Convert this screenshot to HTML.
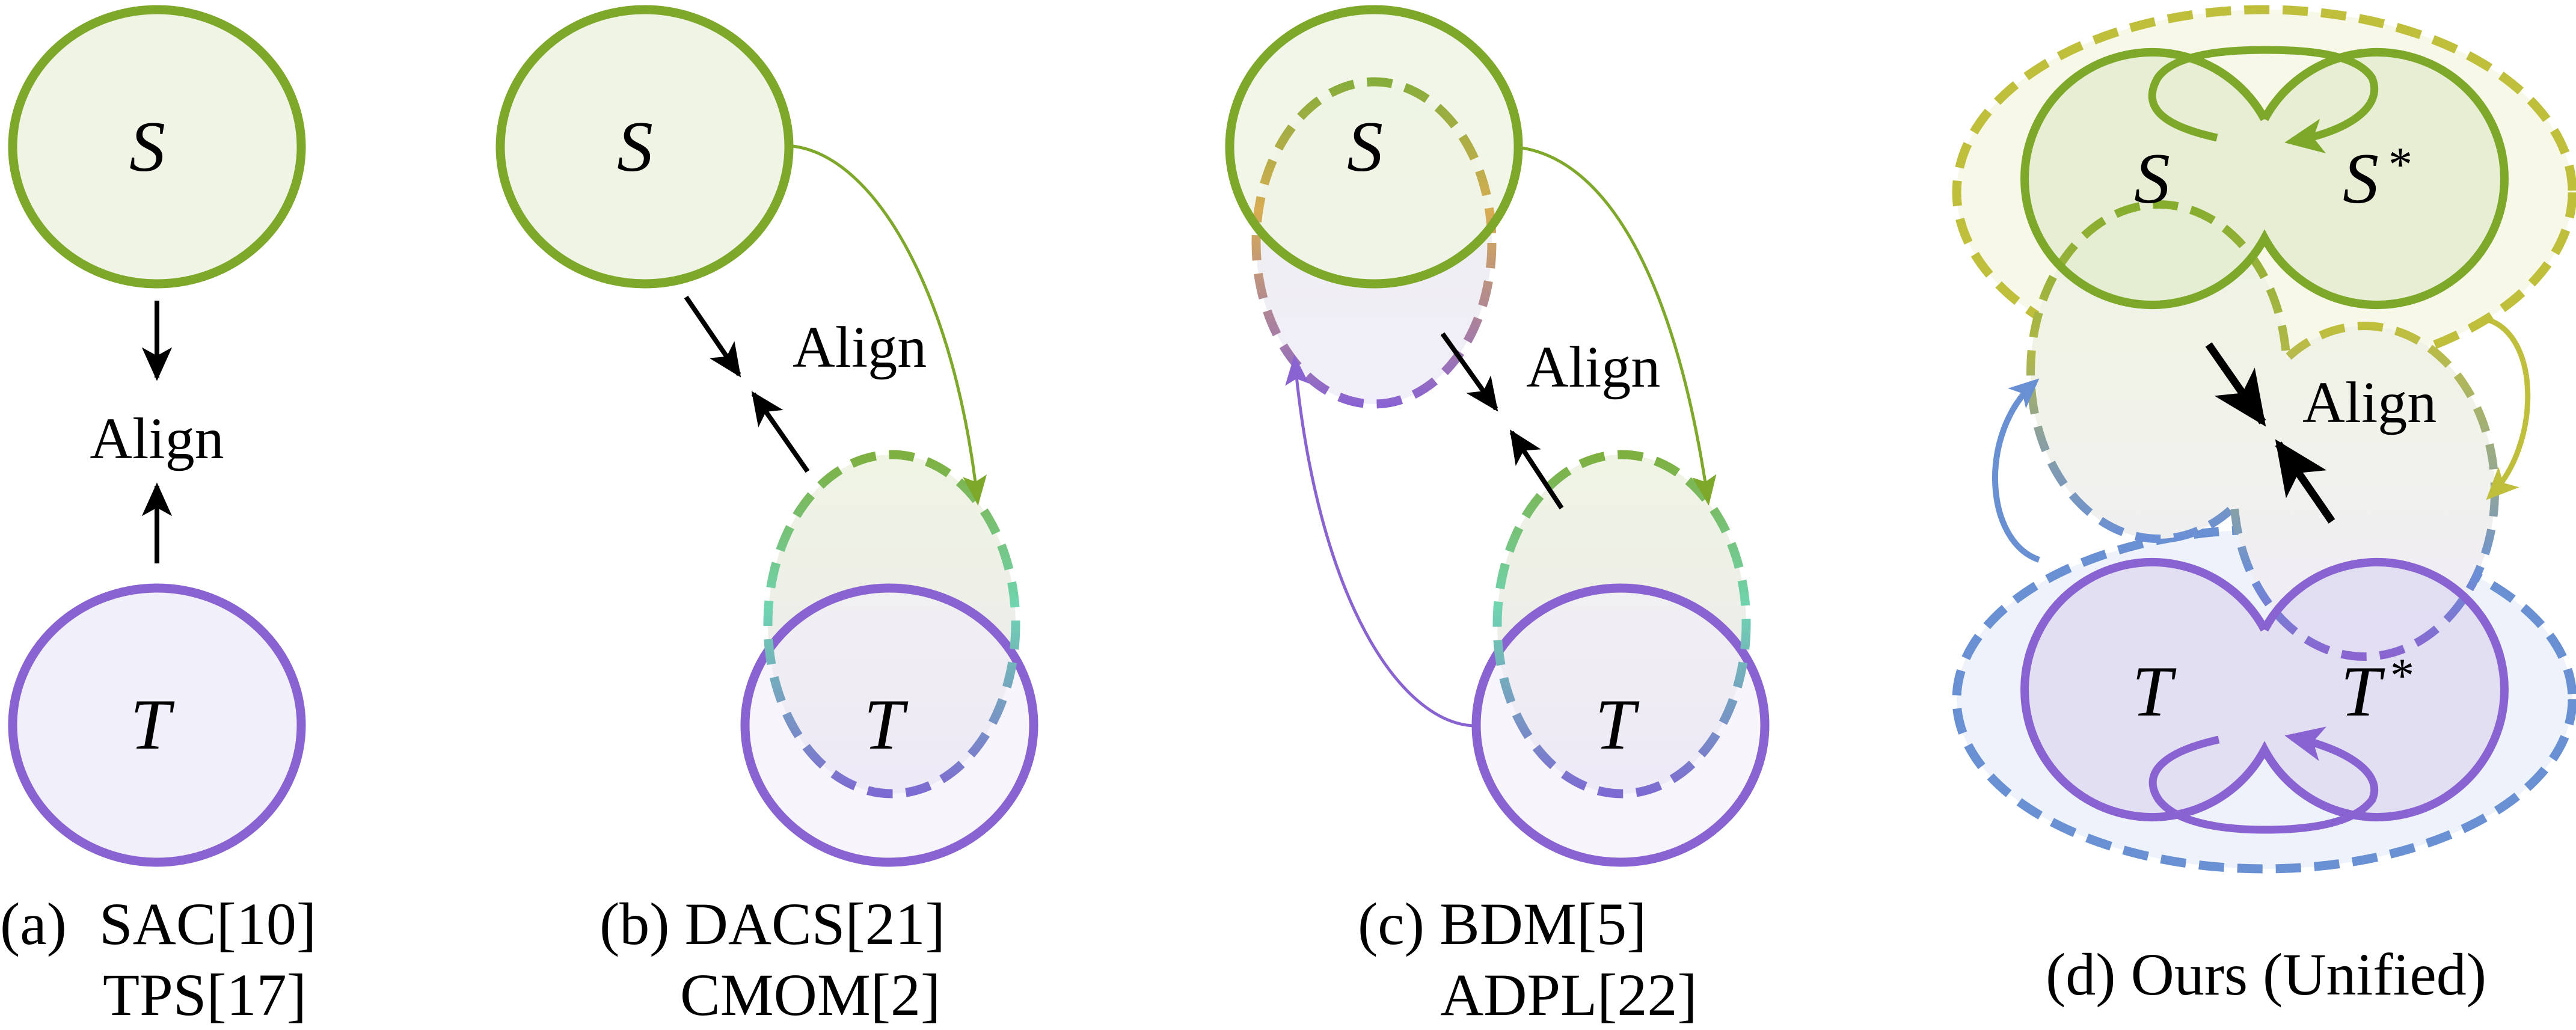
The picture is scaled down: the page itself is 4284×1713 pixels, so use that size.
<!DOCTYPE html>
<html><head><meta charset="utf-8"><style>
html,body{margin:0;padding:0;background:#fff;}
svg{display:block}
.sc{font-style:italic;font-size:120px}
</style></head><body>
<svg width="4284" height="1713" viewBox="0 0 4284 1713" xmlns="http://www.w3.org/2000/svg" font-family="'Liberation Serif','DejaVu Serif','Times New Roman',serif" fill="#000">
<defs>
<marker id="ab" viewBox="0 0 10 10" refX="9" refY="5" markerWidth="7" markerHeight="7" orient="auto"><path d="M0,0.5 L10,5 L0,9.5 L2.5,5 z" fill="#000"/></marker>
<marker id="ag" viewBox="0 0 10 10" refX="9" refY="5" markerWidth="10" markerHeight="10" orient="auto"><path d="M0,1 L10,5 L0,9 L2,5 z" fill="#7ea82a"/></marker>
<marker id="ap" viewBox="0 0 10 10" refX="9" refY="5" markerWidth="10" markerHeight="10" orient="auto"><path d="M0,1 L10,5 L0,9 L2,5 z" fill="#8a63d2"/></marker>
<marker id="ag2" viewBox="0 0 10 10" refX="8" refY="5" markerWidth="5" markerHeight="5" orient="auto"><path d="M0,0.5 L10,5 L0,9.5 L2.5,5 z" fill="#7ea82a"/></marker>
<marker id="ap2" viewBox="0 0 10 10" refX="8" refY="5" markerWidth="5" markerHeight="5" orient="auto"><path d="M0,0.5 L10,5 L0,9.5 L2.5,5 z" fill="#8a63d2"/></marker>
<marker id="ay" viewBox="0 0 10 10" refX="8" refY="5" markerWidth="6" markerHeight="6" orient="auto"><path d="M0,0.5 L10,5 L0,9.5 L2.5,5 z" fill="#bfbf3c"/></marker>
<marker id="abl" viewBox="0 0 10 10" refX="8" refY="5" markerWidth="5" markerHeight="5" orient="auto"><path d="M0,0.5 L10,5 L0,9.5 L2.5,5 z" fill="#6a90d4"/></marker>
<linearGradient id="gb" x1="0" y1="0" x2="0" y2="1"><stop offset="0" stop-color="#7eb040"/><stop offset="0.45" stop-color="#6fd4b0"/><stop offset="1" stop-color="#7d6ad2"/></linearGradient>
<linearGradient id="gbf" x1="0" y1="0" x2="0" y2="1"><stop offset="0" stop-color="#eff4e4"/><stop offset="0.5" stop-color="#eeeee8"/><stop offset="1" stop-color="#e6e0f4"/></linearGradient>
<linearGradient id="gc" x1="0" y1="0" x2="0" y2="1"><stop offset="0" stop-color="#86ad3a"/><stop offset="0.4" stop-color="#d8ad52"/><stop offset="1" stop-color="#8a63d2"/></linearGradient>
<linearGradient id="gcf" x1="0" y1="0" x2="0" y2="1"><stop offset="0" stop-color="#eff4e4"/><stop offset="0.55" stop-color="#efeef3"/><stop offset="1" stop-color="#f1eff9"/></linearGradient>
<linearGradient id="gdl" x1="0" y1="0" x2="0" y2="1"><stop offset="0" stop-color="#86ad2e"/><stop offset="0.45" stop-color="#b0b848"/><stop offset="0.7" stop-color="#8aa0a0"/><stop offset="1" stop-color="#6a8fd6"/></linearGradient>
<linearGradient id="gdr" x1="0" y1="0" x2="0" y2="1"><stop offset="0" stop-color="#bfbf3c"/><stop offset="0.5" stop-color="#8fa59a"/><stop offset="0.75" stop-color="#6a8fd6"/><stop offset="1" stop-color="#8a64d0"/></linearGradient>
<linearGradient id="gdf" gradientUnits="userSpaceOnUse" x1="0" y1="340" x2="0" y2="1090"><stop offset="0" stop-color="#eef3e0"/><stop offset="0.5" stop-color="#f1f2ea"/><stop offset="1" stop-color="#efebf7"/></linearGradient>
<mask id="mR" maskUnits="userSpaceOnUse" x="0" y="0" width="4284" height="1713"><rect width="4284" height="1713" fill="#fff"/><ellipse cx="3932" cy="817" rx="217" ry="275" fill="#000"/></mask>
<mask id="mL" maskUnits="userSpaceOnUse" x="0" y="0" width="4284" height="1713"><rect width="4284" height="1713" fill="#fff"/><ellipse cx="3590" cy="618" rx="213" ry="278" fill="#000"/></mask>
</defs>

<!-- (a) -->
<ellipse cx="261" cy="244" rx="240" ry="228" fill="#eff4e4" stroke="#7ea82a" stroke-width="15"/>
<ellipse cx="261" cy="1206" rx="240" ry="228" fill="#f1eff9" stroke="#8a63d2" stroke-width="15"/>
<text class="sc" x="245" y="284" text-anchor="middle">S</text>
<text class="sc" x="250" y="1245" text-anchor="middle">T</text>
<line x1="261" y1="500" x2="261" y2="628" stroke="#000" stroke-width="8" marker-end="url(#ab)"/>
<line x1="261" y1="937" x2="261" y2="808" stroke="#000" stroke-width="8" marker-end="url(#ab)"/>
<text x="261" y="762" text-anchor="middle" font-size="98">Align</text>
<text x="0" y="1570" font-size="100">(a)</text>
<text x="165" y="1570" font-size="100">SAC[10]</text>
<text x="171" y="1688" font-size="100">TPS[17]</text>

<!-- (b) -->
<ellipse cx="1072" cy="244" rx="240" ry="228" fill="#eff4e4" stroke="#7ea82a" stroke-width="15"/>
<text class="sc" x="1056" y="284" text-anchor="middle">S</text>
<ellipse cx="1483" cy="1038" rx="206" ry="282" fill="url(#gbf)"/>
<ellipse cx="1479" cy="1206" rx="240" ry="228" fill="#f1eff9" fill-opacity="0.6" stroke="#8a63d2" stroke-width="15"/>
<ellipse cx="1483" cy="1038" rx="206" ry="282" fill="none" stroke="url(#gb)" stroke-width="15" stroke-dasharray="42,22"/>
<text class="sc" x="1470" y="1245" text-anchor="middle">T</text>
<path d="M1318,243 C1460,260 1590,500 1626,836" fill="none" stroke="#7ea82a" stroke-width="5" marker-end="url(#ag)"/>
<line x1="1141" y1="494" x2="1229" y2="623" stroke="#000" stroke-width="8" marker-end="url(#ab)"/>
<line x1="1343" y1="784" x2="1253" y2="655" stroke="#000" stroke-width="8" marker-end="url(#ab)"/>
<text x="1318" y="610" font-size="98">Align</text>
<text x="997" y="1570" font-size="100">(b) DACS[21]</text>
<text x="1131" y="1688" font-size="100">CMOM[2]</text>

<!-- (c) -->
<ellipse cx="2285" cy="404" rx="196" ry="268" fill="url(#gcf)"/>
<ellipse cx="2285" cy="244" rx="240" ry="228" fill="#eff4e4" fill-opacity="0.85"/>
<ellipse cx="2285" cy="404" rx="196" ry="268" fill="none" stroke="url(#gc)" stroke-width="15" stroke-dasharray="42,22"/>
<ellipse cx="2285" cy="244" rx="240" ry="228" fill="none" stroke="#7ea82a" stroke-width="15"/>
<text class="sc" x="2270" y="284" text-anchor="middle">S</text>
<ellipse cx="2697" cy="1038" rx="207" ry="282" fill="url(#gbf)"/>
<ellipse cx="2695" cy="1206" rx="240" ry="228" fill="#f1eff9" fill-opacity="0.6" stroke="#8a63d2" stroke-width="15"/>
<ellipse cx="2697" cy="1038" rx="207" ry="282" fill="none" stroke="url(#gb)" stroke-width="15" stroke-dasharray="42,22"/>
<text class="sc" x="2686" y="1245" text-anchor="middle">T</text>
<path d="M2531,246 C2680,270 2790,480 2841,836" fill="none" stroke="#7ea82a" stroke-width="5" marker-end="url(#ag)"/>
<path d="M2449,1207 C2330,1200 2190,1000 2153,595" fill="none" stroke="#8a63d2" stroke-width="5" marker-end="url(#ap)"/>
<line x1="2399" y1="555" x2="2488" y2="680" stroke="#000" stroke-width="8" marker-end="url(#ab)"/>
<line x1="2597" y1="845" x2="2514" y2="719" stroke="#000" stroke-width="8" marker-end="url(#ab)"/>
<text x="2538" y="643" font-size="98">Align</text>
<text x="2258" y="1570" font-size="100">(c) BDM[5]</text>
<text x="2395" y="1688" font-size="100">ADPL[22]</text>

<!-- (d) -->
<ellipse cx="3766" cy="320" rx="512" ry="304" fill="#f7f8e8" stroke="#bfbf3c" stroke-width="15" stroke-dasharray="42,22"/>
<ellipse cx="3766" cy="1163" rx="512" ry="282" fill="#eef3fb" stroke="#6a90d4" stroke-width="15" stroke-dasharray="42,22"/>
<ellipse cx="3590" cy="618" rx="213" ry="278" fill="url(#gdf)"/>
<ellipse cx="3932" cy="817" rx="217" ry="275" fill="url(#gdf)"/>
<g fill-opacity="0.75">
<path d="M3766,198 A212,210 0 1 0 3766,396 A212,210 0 1 0 3766,198 Z" fill="#e2ebcc"/>
<path d="M3766,1047 A212,212 0 1 0 3766,1247 A212,212 0 1 0 3766,1047 Z" fill="#ddd8f0"/>
</g>
<ellipse cx="3590" cy="618" rx="213" ry="278" fill="none" stroke="url(#gdl)" stroke-width="14" stroke-dasharray="42,22" mask="url(#mR)"/>
<ellipse cx="3932" cy="817" rx="217" ry="275" fill="none" stroke="url(#gdr)" stroke-width="14" stroke-dasharray="42,22" mask="url(#mL)"/>
<path d="M3766,198 A212,210 0 1 0 3766,396 A212,210 0 1 0 3766,198" fill="none" stroke="#7ea82a" stroke-width="14"/>
<path d="M3766,1047 A212,212 0 1 0 3766,1247 A212,212 0 1 0 3766,1047" fill="none" stroke="#8a63d2" stroke-width="14"/>
<path d="M3687,229 C3600,210 3560,180 3588,130 C3615,90 3700,83 3767,83 C3840,83 3920,90 3945,130 C3965,180 3900,220 3812,235" fill="none" stroke="#7ea82a" stroke-width="13" marker-end="url(#ag2)"/>
<path d="M3690,1230 C3600,1250 3560,1285 3590,1330 C3620,1370 3700,1380 3767,1380 C3840,1380 3915,1370 3945,1330 C3965,1285 3900,1245 3812,1226" fill="none" stroke="#8a63d2" stroke-width="13" marker-end="url(#ap2)"/>
<text class="sc" x="3579" y="337" text-anchor="middle">S</text>
<text class="sc" x="3926" y="337" text-anchor="middle">S</text>
<text x="3972" y="300" font-size="80">*</text>
<text class="sc" x="3579" y="1190" text-anchor="middle">T</text>
<text class="sc" x="3926" y="1190" text-anchor="middle">T</text>
<text x="3975" y="1150" font-size="80">*</text>
<path d="M4138,532 C4225,560 4225,740 4142,824" fill="none" stroke="#bfbf3c" stroke-width="9" marker-end="url(#ay)"/>
<path d="M3391,931 C3300,900 3290,720 3384,636" fill="none" stroke="#6a90d4" stroke-width="10" marker-end="url(#abl)"/>
<line x1="3673" y1="573" x2="3763" y2="702" stroke="#000" stroke-width="13" marker-end="url(#ab)"/>
<line x1="3878" y1="867" x2="3789" y2="738" stroke="#000" stroke-width="13" marker-end="url(#ab)"/>
<text x="3829" y="702" font-size="98">Align</text>
<text x="3402" y="1654" font-size="100">(d) Ours (Unified)</text>
</svg>
</body></html>
